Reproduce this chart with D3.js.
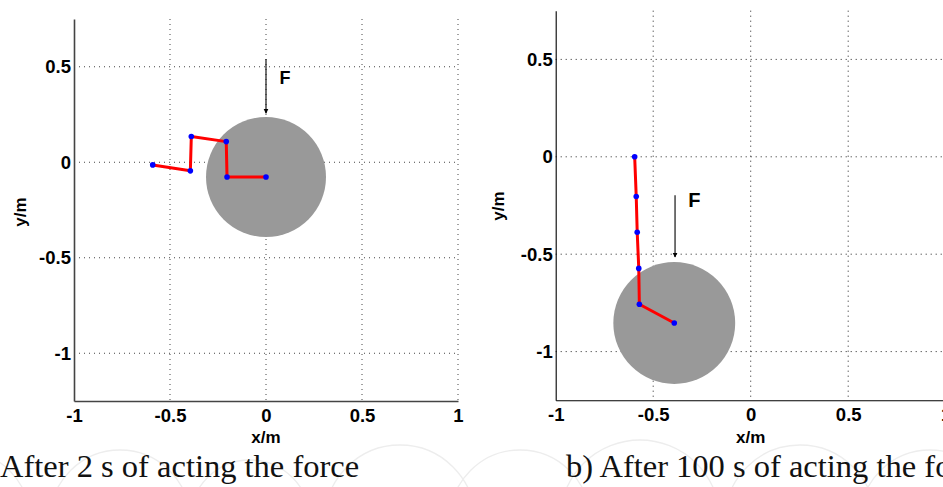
<!DOCTYPE html>
<html>
<head>
<meta charset="utf-8">
<script src="https://cdn.jsdelivr.net/npm/d3@7"></script>
<style>
  html, body { margin: 0; padding: 0; background: #fff; overflow: hidden; }
  svg { display: block; }
</style>
</head>
<body>
<svg id="fig" width="943" height="487"></svg>
<script>
// Axis domains and tick values shared by both panels
const xDomain = [-1, 1];
const yDomain = [-1.25, 0.75];
const xTicks = [-1, -0.5, 0, 0.5, 1];
const yTicks = [-1, -0.5, 0, 0.5];

// Panel a): joint positions of the chain after 2 s
const chainAx = [-0.59, -0.394, -0.389, -0.207, -0.203, 0.0];
const chainAy = [-0.014, -0.045, 0.135, 0.108, -0.077, -0.077];

// Panel b): joint positions of the chain after 100 s
const chainBx = [-0.595, -0.587, -0.582, -0.574, -0.571, -0.392];
const chainBy = [0.0, -0.204, -0.387, -0.573, -0.757, -0.853];

// Radius of the body attached to the chain end
const bodyRadius = 0.3125;

// Applied force arrows: x, start y, end y
const forceA = [0.0, 0.54, 0.257];
const forceB = [-0.388, -0.198, -0.515];

// Force label positions
const labelA = [0.07, 0.41];
const labelB = [-0.32, -0.26];

const captions = ["After 2 s of acting the force", "b) After 100 s of acting the force"];

const svg = d3.select("#fig");

// faint watermark arcs behind the captions
const wm = svg.append("g").attr("fill", "none").attr("stroke", "#ededed").attr("stroke-width", 1.3);
[[-40, 70], [120, 70], [250, 60], [400, 75], [520, 70], [640, 80], [800, 75], [930, 70]].forEach(([cx, r]) => {
  wm.append("circle").attr("cx", cx).attr("cy", 520).attr("r", r);
});

const panels = [
  { px: [74, 458], py: [401, 19], xs: chainAx, ys: chainAy, force: forceA, label: labelA,
    axisColor: "#444", axisWidth: 1.6, gridColor: "#444", caption: captions[0], capX: 0, ylabX: 20 },
  { px: [555.7, 945.7], py: [400.3, 10.7], xs: chainBx, ys: chainBy, force: forceB, label: labelB,
    axisColor: "#000", axisWidth: 1.1, gridColor: "#222", caption: captions[1], capX: 566, ylabX: 498 }
];

const defs = svg.append("defs");
defs.append("marker")
  .attr("id", "arrowhead")
  .attr("viewBox", "0 0 10 10")
  .attr("refX", 9).attr("refY", 5)
  .attr("markerWidth", 5).attr("markerHeight", 6)
  .attr("markerUnits", "userSpaceOnUse")
  .attr("orient", "auto")
  .append("path").attr("d", "M0,0 L10,5 L0,10 Z").attr("fill", "#000");

const fmt = d => String(d);
const sans = "Liberation Sans, Arial, sans-serif";

panels.forEach((p, i) => {
  const x = d3.scaleLinear().domain(xDomain).range(p.px);
  const y = d3.scaleLinear().domain(yDomain).range(p.py);
  const g = svg.append("g");

  // dotted grid
  const grid = g.append("g").attr("stroke", p.gridColor).attr("stroke-width", 1)
    .attr("stroke-dasharray", "1,4");
  xTicks.filter(t => t > xDomain[0]).forEach(t => {
    grid.append("line").attr("x1", x(t)).attr("x2", x(t))
      .attr("y1", y(yDomain[1])).attr("y2", y(yDomain[0]));
  });
  yTicks.forEach(t => {
    grid.append("line").attr("x1", x(xDomain[0])).attr("x2", x(xDomain[1]))
      .attr("y1", y(t)).attr("y2", y(t));
  });

  // body
  const n = p.xs.length - 1;
  g.append("circle")
    .attr("cx", x(p.xs[n])).attr("cy", y(p.ys[n]))
    .attr("r", x(bodyRadius) - x(0))
    .attr("fill", "#999999");

  // chain links
  const pts = p.xs.map((v, k) => [v, p.ys[k]]);
  g.append("path")
    .datum(pts)
    .attr("d", d3.line().x(d => x(d[0])).y(d => y(d[1])))
    .attr("fill", "none").attr("stroke", "#ff0000").attr("stroke-width", 3)
    .attr("stroke-linejoin", "round");
  g.selectAll(".joint").data(pts).join("circle")
    .attr("class", "joint")
    .attr("cx", d => x(d[0])).attr("cy", d => y(d[1]))
    .attr("r", 2.8).attr("fill", "#0000ff");

  // force arrow
  g.append("line")
    .attr("x1", x(p.force[0])).attr("x2", x(p.force[0]))
    .attr("y1", y(p.force[1])).attr("y2", y(p.force[2]))
    .attr("stroke", "#000").attr("stroke-width", 1.1)
    .attr("marker-end", "url(#arrowhead)");
  g.append("text")
    .attr("x", x(p.label[0])).attr("y", y(p.label[1]))
    .attr("font-family", sans)
    .attr("font-weight", "bold").attr("font-size", i === 0 ? 18 : 20)
    .text("F");

  // axes
  const xAxis = g.append("g").attr("transform", `translate(0,${p.py[0]})`)
    .call(d3.axisBottom(x).tickValues(xTicks).tickFormat(fmt).tickSize(0).tickPadding(8));
  const yAxis = g.append("g").attr("transform", `translate(${p.px[0]},0)`)
    .call(d3.axisLeft(y).tickValues(yTicks).tickFormat(fmt).tickSize(0).tickPadding(3));
  [xAxis, yAxis].forEach(a => {
    a.select(".domain").attr("stroke", p.axisColor).attr("stroke-width", p.axisWidth);
    a.selectAll("text")
      .attr("font-family", sans)
      .attr("font-weight", "bold").attr("font-size", 18.5).attr("fill", "#000");
  });

  // axis titles
  g.append("text")
    .attr("x", x(0)).attr("y", 443)
    .attr("text-anchor", "middle")
    .attr("font-family", sans)
    .attr("font-weight", "bold").attr("font-size", 17)
    .text("x/m");
  g.append("text")
    .attr("transform", `translate(${p.ylabX + 6},${i === 0 ? 212 : 206}) rotate(-90)`)
    .attr("text-anchor", "middle")
    .attr("font-family", sans)
    .attr("font-weight", "bold").attr("font-size", 17)
    .text("y/m");

  // caption
  svg.append("text")
    .attr("x", p.capX).attr("y", 477)
    .attr("font-family", "Liberation Serif, Times New Roman, serif")
    .attr("font-size", 32.5).attr("fill", "#111")
    .text(p.caption);
});
</script>
</body>
</html>
